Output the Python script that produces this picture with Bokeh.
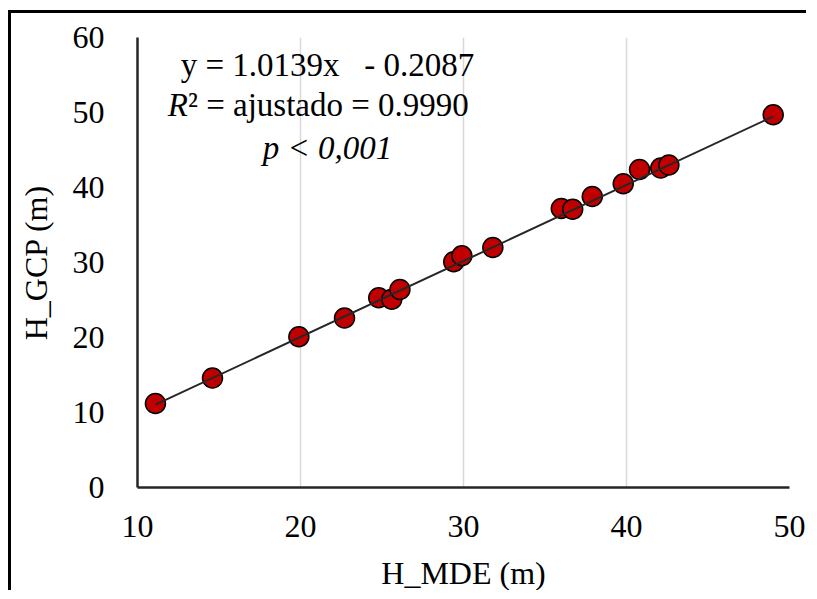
from bokeh.plotting import figure
from bokeh.models import Range1d, FixedTicker, ColumnDataSource
from bokeh.core.properties import value
from bokeh.embed import file_html
from bokeh.resources import INLINE

# ---- data ----
h_mde = [11.1, 14.6, 19.9, 22.7, 24.8, 25.6, 26.1, 29.4, 29.9, 31.8,
         36.0, 36.7, 37.9, 39.8, 40.8, 42.1, 42.6, 49.0]
h_gcp = [11.2, 14.6, 20.1, 22.6, 25.3, 25.1, 26.4, 30.1, 30.9, 32.0,
         37.2, 37.1, 38.8, 40.5, 42.4, 42.6, 43.0, 49.7]
slope = 1.0139
intercept = -0.2087
x_ticks = [10, 20, 30, 40, 50]
y_ticks = [0, 10, 20, 30, 40, 50, 60]
eq_text = "y = 1.0139x \u00a0\u00a0- 0.2087"
r2_text_r = "R"
r2_text_rest = "\u00b2 = ajustado = 0.9990"
p_text = "p < 0,001"
x_title = "H_MDE (m)"
y_title = "H_GCP (m)"

FONT = "Liberation Serif"

p = figure(width=798, height=580, output_backend="svg", toolbar_location=None,
           x_range=Range1d(10, 50), y_range=Range1d(0, 60),
           min_border_left=126, min_border_right=20,
           min_border_top=24, min_border_bottom=101,
           styles={"border-top": "3px solid black", "border-left": "3px solid black",
                   "margin-left": "8px", "margin-top": "10px"})
p.outline_line_color = None
p.background_fill_color = "white"
p.border_fill_color = "white"

# grid
p.xgrid.ticker = FixedTicker(ticks=x_ticks)
p.xgrid.grid_line_color = "#d9d9d9"
p.xgrid.grid_line_width = 1.5
p.ygrid.grid_line_color = None

# axes
for ax in (p.xaxis[0], p.yaxis[0]):
    ax.axis_line_color = "#262626"
    ax.axis_line_width = 2.5
    ax.major_tick_line_color = None
    ax.minor_tick_line_color = None
    ax.major_label_text_font = FONT
    ax.major_label_text_font_size = "32px"
    ax.major_label_text_color = "black"
    ax.axis_label_text_font = FONT
    ax.axis_label_text_font_size = "32px"
    ax.axis_label_text_font_style = "normal"
    ax.axis_label_text_color = "black"

p.xaxis.ticker = FixedTicker(ticks=x_ticks)
p.yaxis.ticker = FixedTicker(ticks=y_ticks)
p.xaxis.major_label_standoff = 22
p.yaxis.major_label_standoff = 27
p.xaxis.axis_label = x_title
p.yaxis.axis_label = y_title
p.xaxis.axis_label_standoff = 15
p.yaxis.axis_label_standoff = 16

# points
src = ColumnDataSource(dict(x=h_mde, y=h_gcp))
p.scatter("x", "y", source=src, size=20, fill_color="#c00000",
          line_color="black", line_width=1.5)

# fitted line
x0, x1 = min(h_mde), max(h_mde)
p.line([x0, x1], [slope * x0 + intercept, slope * x1 + intercept],
       line_color="#262626", line_width=2)

# annotation text
p.text(x=[21.66], y=[56.4], text=[eq_text], text_font=value(FONT),
       text_font_size="33px", text_align="center", text_baseline="middle",
       text_color="black")
p.text(x=[13.1], y=[51.0], text=[r2_text_r], text_font=value(FONT),
       text_font_size="33px", text_font_style="italic", text_align="right",
       text_baseline="middle", text_color="black")
p.text(x=[13.1], y=[51.0], text=[r2_text_rest], text_font=value(FONT),
       text_font_size="33px", text_align="left", text_baseline="middle",
       text_color="black")
p.text(x=[21.66], y=[45.3], text=[p_text], text_font=value(FONT),
       text_font_size="33px", text_font_style="italic", text_align="center",
       text_baseline="middle", text_color="black")

open("out.html", "w").write(file_html(p, INLINE))
